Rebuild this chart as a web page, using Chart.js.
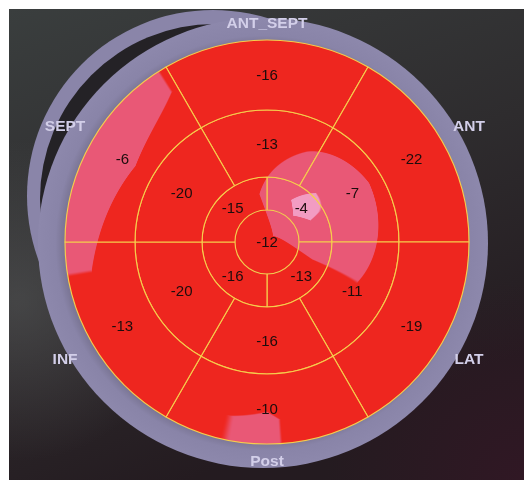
<!DOCTYPE html>
<html>
<head>
<meta charset="utf-8">
<script src="https://cdn.jsdelivr.net/npm/chart.js@4.4.1/dist/chart.umd.min.js"></script>
<style>
  html, body { margin: 0; padding: 0; background: #ffffff; }
  #wrap { position: absolute; left: 9px; top: 9px; width: 515px; height: 471px; }
</style>
</head>
<body>
<div id="wrap"><canvas id="bullseye"></canvas></div>
<script>
// Wall names, clockwise from the top
const walls = ['ANT_SEPT', 'ANT', 'LAT', 'Post', 'INF', 'SEPT'];
// Peak strain (%) per segment, clockwise from the top
const basalStrain = [-16, -22, -19, -10, -13, -6];
const midStrain = [-13, -7, -11, -16, -20, -20];
const apicalStrain = [-4, -13, -16, -15];
const apexStrain = [-12];

// ring layout: radial share of each ring, its start angle, and where its values sit radially
const RING_WEIGHTS = [70, 67, 33, 32];
const RING_ROT = [-30, -30, 0, 0];
const SAMPLE_R = [0.88, 0.49, 0.24, 0];
const OUTER_R = 202;

// colour map thresholds (strain %)
const PINK_AT = -10.6;
const LIGHT_AT = -5.85;
const RED = [238, 38, 31];
const PINK = [233, 88, 118];
const LIGHT = [242, 156, 194];

const rings = [basalStrain, midStrain, apicalStrain, apexStrain];

function smooth(e0, e1, x) {
  const t = Math.min(1, Math.max(0, (x - e0) / (e1 - e0)));
  return t * t * (3 - 2 * t);
}

// value of one ring at an angle (degrees clockwise from the top), linear between segment centres
function ringValue(ri, deg) {
  const vals = rings[ri];
  const n = vals.length;
  if (n === 1) return vals[0];
  let u = (deg - RING_ROT[ri]) / (360 / n) - 0.5;
  u = ((u % n) + n) % n;
  const i0 = Math.floor(u);
  const t = u - i0;
  return vals[i0] * (1 - t) + vals[(i0 + 1) % n] * t;
}

// strain interpolated around each ring, then between rings
function strainAt(r, deg, R) {
  const rs = SAMPLE_R.map((s) => s * R);
  if (r >= rs[0]) return ringValue(0, deg);
  for (let k = 0; k < rs.length - 1; k++) {
    if (r >= rs[k + 1]) {
      const s = (r - rs[k + 1]) / (rs[k] - rs[k + 1]);
      return ringValue(k + 1, deg) * (1 - s) + ringValue(k, deg) * s;
    }
  }
  return ringValue(rs.length - 1, deg);
}

// Strain map painted once into an off-screen canvas and used as the fill of every segment
function strainPattern(chart) {
  const area = chart.chartArea;
  if (!area) return 'rgb(238,38,31)';
  const cx = (area.left + area.right) / 2;
  const cy = (area.top + area.bottom) / 2;
  const key = [chart.width, chart.height, cx, cy].join(',');
  if (chart.$strainKey === key) return chart.$strainPattern;

  const R = OUTER_R;
  const W = chart.width, H = chart.height;
  const off = document.createElement('canvas');
  off.width = W; off.height = H;
  const octx = off.getContext('2d');
  const img = octx.createImageData(W, H);
  for (let y = 0; y < H; y++) {
    for (let x = 0; x < W; x++) {
      const dx = x + 0.5 - cx, dy = y + 0.5 - cy;
      const r = Math.hypot(dx, dy);
      if (r > R + 3) continue;
      const deg = Math.atan2(dx, -dy) * 180 / Math.PI;
      const f = strainAt(r, deg, R);
      const tp = smooth(PINK_AT - 0.08, PINK_AT + 0.08, f);
      const tl = smooth(LIGHT_AT - 0.08, LIGHT_AT + 0.08, f);
      const idx = (y * W + x) * 4;
      for (let c = 0; c < 3; c++) {
        let col = RED[c] + (PINK[c] - RED[c]) * tp;
        col = col + (LIGHT[c] - col) * tl;
        img.data[idx + c] = col;
      }
      img.data[idx + 3] = 255;
    }
  }
  octx.putImageData(img, 0, 0);
  chart.$strainKey = key;
  chart.$strainPattern = chart.ctx.createPattern(off, 'no-repeat');
  return chart.$strainPattern;
}

function ring(vals, ri, extra) {
  return Object.assign({
    data: vals.map(() => 1),
    strain: vals,
    weight: RING_WEIGHTS[ri],
    rotation: RING_ROT[ri],
    backgroundColor: (ctx) => strainPattern(ctx.chart),
    borderColor: '#f6cd4c',
    borderWidth: 1.15,
    borderAlign: 'center',
    hoverOffset: 0
  }, extra || {});
}

// Lavender rim behind the plot, with its faint double edge on the upper left
const rimPlugin = {
  id: 'rim',
  beforeDraw(chart) {
    const { ctx, width, height } = chart;
    ctx.save();
    const g = ctx.createLinearGradient(0, 0, width * 0.35, height);
    g.addColorStop(0, '#3a3e3e');
    g.addColorStop(0.55, '#2e2c2e');
    g.addColorStop(1, '#241b20');
    ctx.fillStyle = g;
    ctx.fillRect(0, 0, width, height);
    const g2 = ctx.createRadialGradient(10, height * 0.62, 5, 10, height * 0.62, 160);
    g2.addColorStop(0, 'rgba(95,98,98,0.45)');
    g2.addColorStop(1, 'rgba(95,98,98,0)');
    ctx.fillStyle = g2;
    ctx.fillRect(0, 0, width, height);
    const g3 = ctx.createRadialGradient(width, height, 5, width, height, 200);
    g3.addColorStop(0, 'rgba(60,20,40,0.5)');
    g3.addColorStop(1, 'rgba(60,20,40,0)');
    ctx.fillStyle = g3;
    ctx.fillRect(0, 0, width, height);
    ctx.restore();
  },
  beforeDatasetsDraw(chart) {
    const arc = chart.getDatasetMeta(0).data[0];
    if (!arc) return;
    const { ctx } = chart;
    const cx = arc.x, cy = arc.y, R = arc.outerRadius;
    const disk = (ox, oy, r, col) => {
      ctx.beginPath();
      ctx.arc(cx + ox, cy + oy, r, 0, Math.PI * 2);
      ctx.fillStyle = col;
      ctx.fill();
    };
    ctx.save();
    disk(-54, -46, R - 16, '#8a85a9');
    disk(-52, -43, R - 27, '#242226');
    const lg = ctx.createRadialGradient(cx - 4, cy + 1, R - 2, cx - 4, cy + 1, R + 23);
    lg.addColorStop(0, '#7c7797');
    lg.addColorStop(0.3, '#8984a8');
    lg.addColorStop(1, '#8d88ac');
    disk(-4, 1, R + 23, lg);
    ctx.restore();
  },
  afterDatasetsDraw(chart) {
    const { ctx } = chart;
    ctx.save();
    ctx.textAlign = 'center';
    ctx.textBaseline = 'middle';
    // segment values
    ctx.font = '15px "Liberation Sans", Arial, sans-serif';
    ctx.fillStyle = '#1c0d0d';
    chart.data.datasets.forEach((ds, di) => {
      const meta = chart.getDatasetMeta(di);
      meta.data.forEach((el, i) => {
        const p = ds.data.length === 1 ? { x: el.x, y: el.y } : el.getCenterPoint();
        ctx.fillText(String(ds.strain[i]), p.x, p.y + 1);
      });
    });
    // wall names around the rim
    const arc = chart.getDatasetMeta(0).data[0];
    const cx = arc.x, cy = arc.y, R = arc.outerRadius;
    ctx.font = 'bold 15.5px "Liberation Sans", Arial, sans-serif';
    ctx.fillStyle = '#d3cfe9';
    walls.forEach((w, i) => {
      const a = i * 60 * Math.PI / 180;
      const rr = R * (1.085 + 0.08 * Math.abs(Math.sin(a)));
      ctx.fillText(w, cx + Math.sin(a) * rr, cy - Math.cos(a) * rr + 1);
    });
    ctx.restore();
  }
};

new Chart(document.getElementById('bullseye'), {
  type: 'doughnut',
  data: {
    labels: ['1', '2', '3', '4', '5', '6'],
    datasets: [
      ring(basalStrain, 0),
      ring(midStrain, 1),
      ring(apicalStrain, 2),
      ring(apexStrain, 3, { borderWidth: 0 })
    ]
  },
  options: {
    responsive: true,
    maintainAspectRatio: false,
    animation: false,
    events: [],
    cutout: 0,
    radius: OUTER_R,
    layout: { padding: { left: 30, right: 29, top: 20, bottom: 25 } },
    plugins: {
      legend: { display: false },
      title: { display: false },
      tooltip: { enabled: false }
    }
  },
  plugins: [rimPlugin]
});
</script>
</body>
</html>
